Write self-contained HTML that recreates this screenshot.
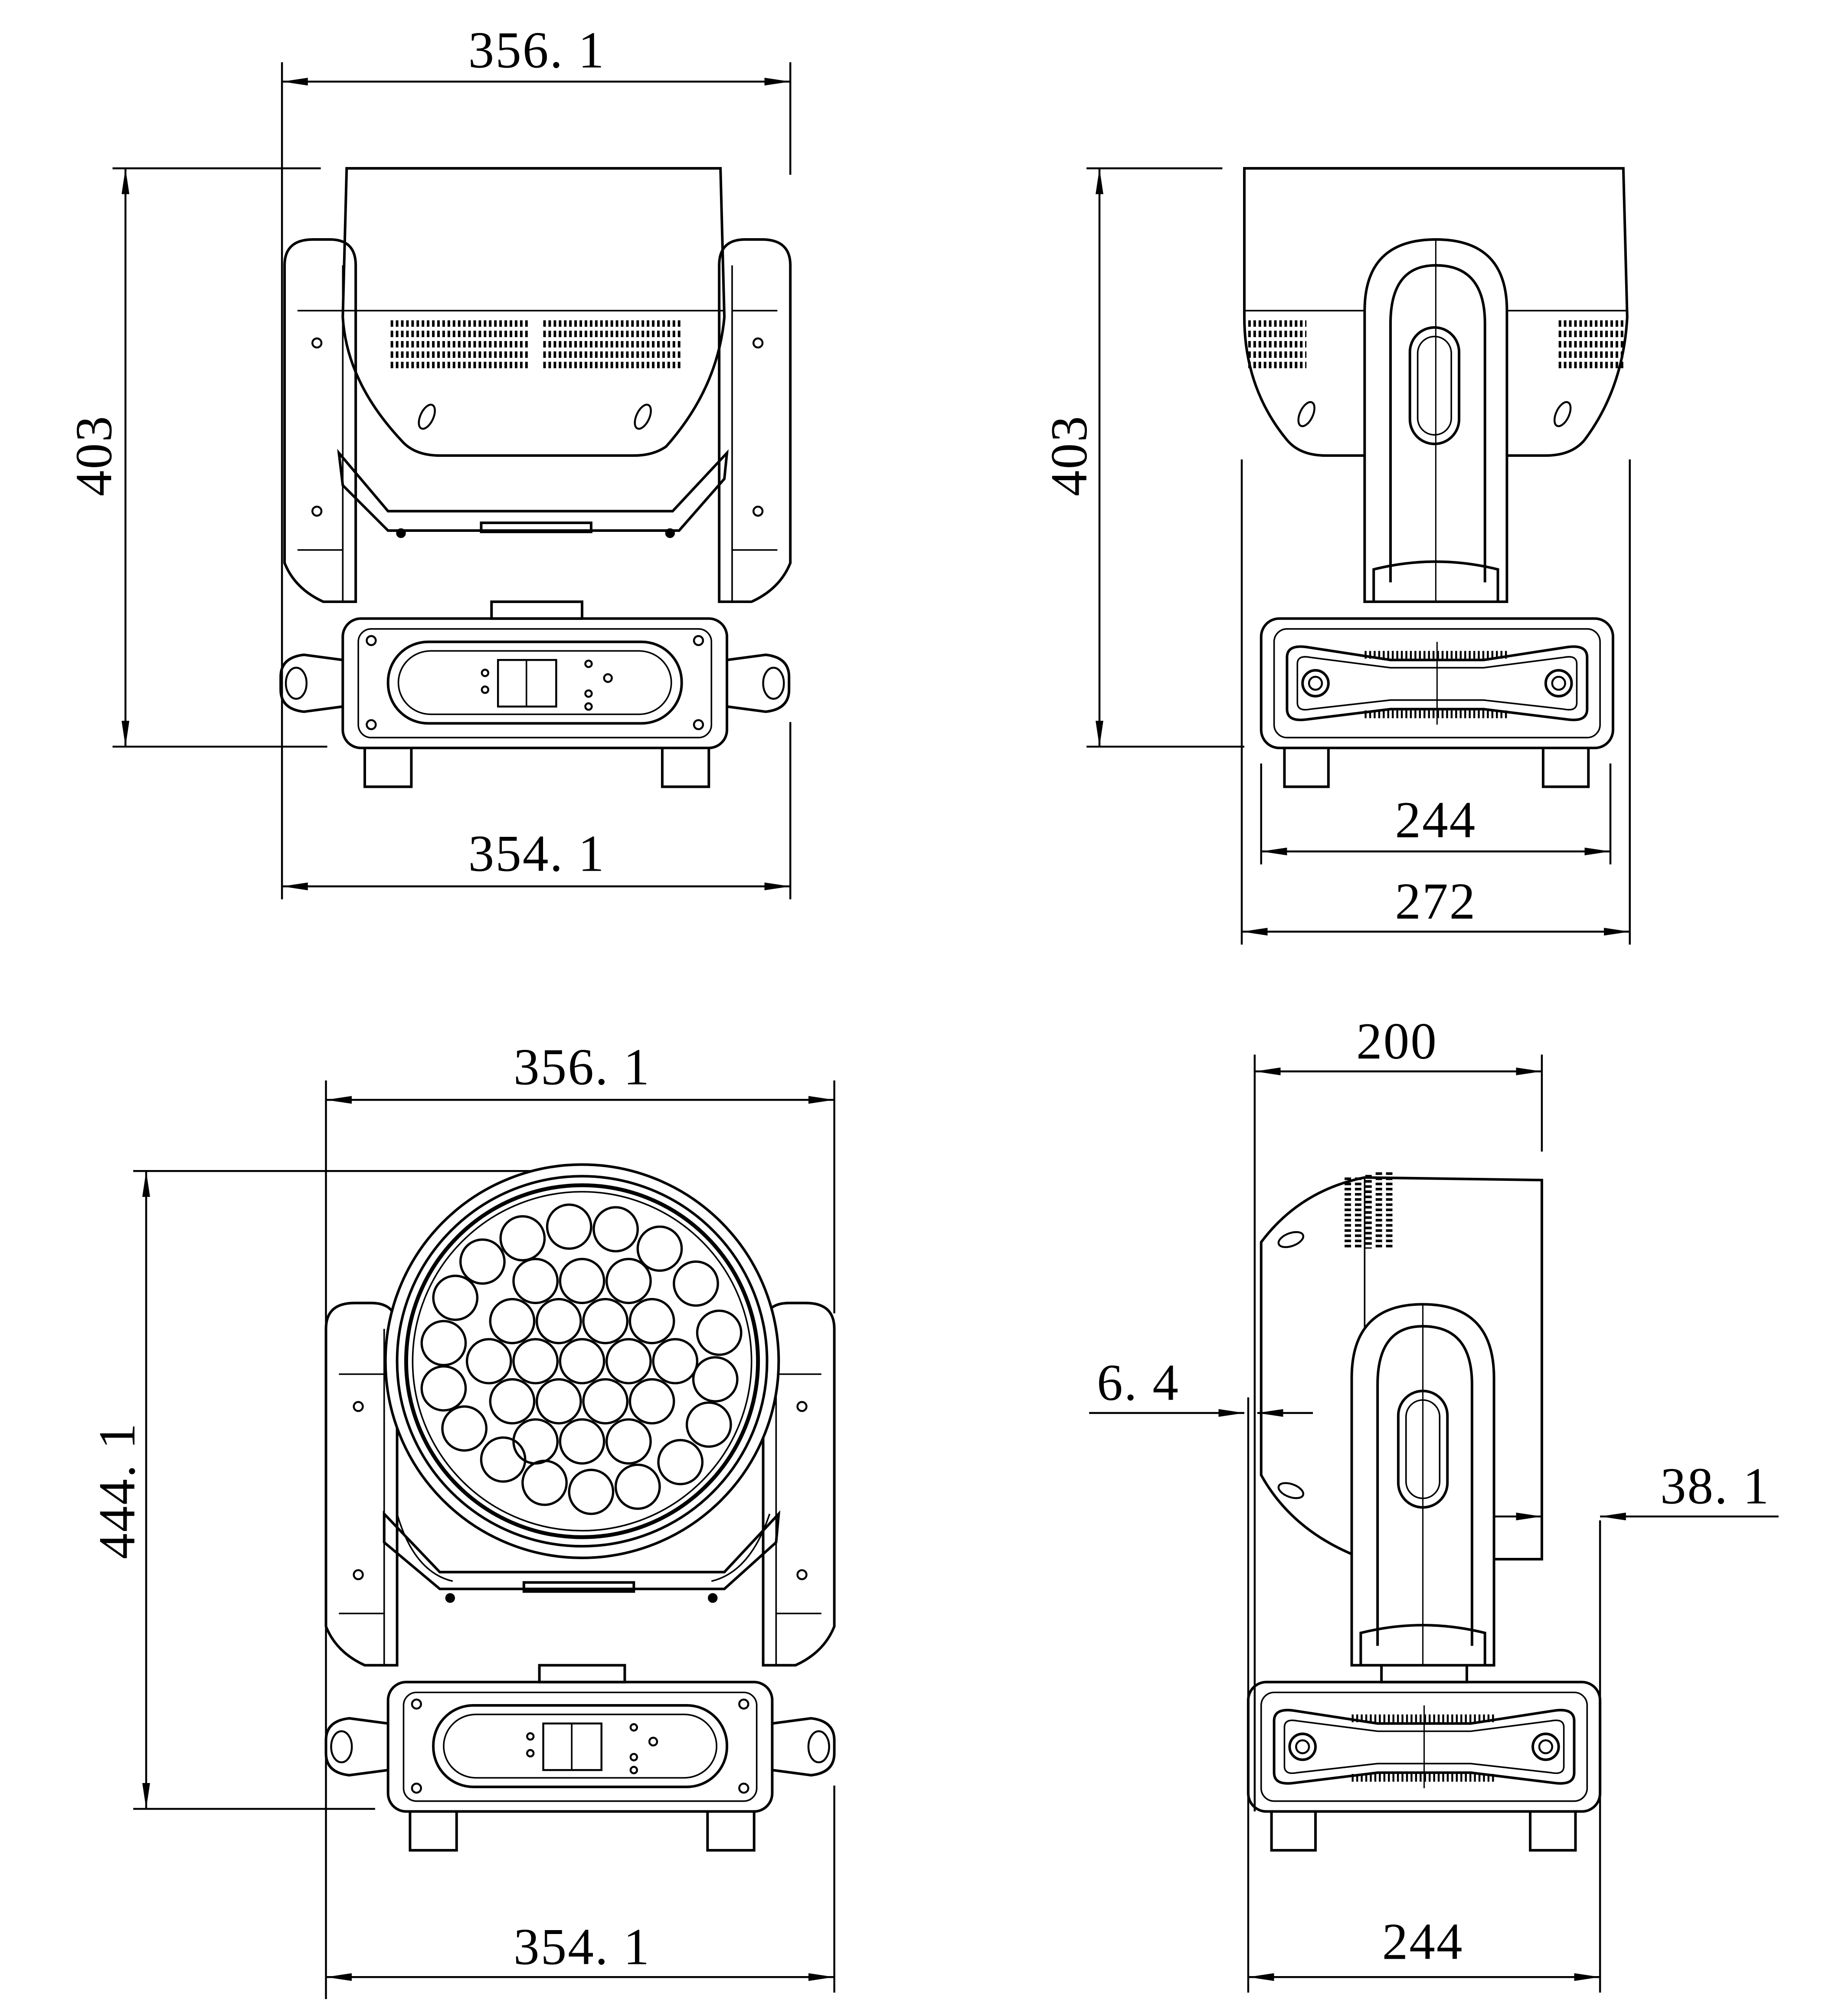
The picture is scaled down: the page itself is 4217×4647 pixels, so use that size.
<!DOCTYPE html>
<html><head><meta charset="utf-8"><style>
html,body{margin:0;padding:0;background:#fff}
svg{display:block}
text{font-family:"Liberation Serif",serif;font-size:40px;fill:#000;letter-spacing:1px}
</style></head><body>
<svg width="4217" height="4647" viewBox="0 0 1414 1558" xmlns="http://www.w3.org/2000/svg">
<defs>
<marker id="a" viewBox="0 0 20 6" refX="20" refY="3" markerWidth="20" markerHeight="6" markerUnits="userSpaceOnUse" orient="auto-start-reverse"><path d="M0,0 L20,3 L0,6 z" fill="#000"/></marker>
<g id="baseF">
 <rect x="0" y="0" width="297" height="100" rx="14" fill="none" stroke="#000" stroke-width="2"/>
 <rect x="12" y="8" width="273" height="84" rx="10" fill="none" stroke="#000" stroke-width="1.2"/>
 <rect x="35" y="18" width="227" height="63" rx="31" fill="none" stroke="#000" stroke-width="2"/>
 <rect x="43" y="25" width="211" height="49" rx="25" fill="none" stroke="#000" stroke-width="1.2"/>
 <rect x="120" y="32" width="45" height="36" fill="none" stroke="#000" stroke-width="1.5"/>
 <line x1="142" y1="32" x2="142" y2="68" stroke="#000" stroke-width="1.2"/>
 <circle cx="22" cy="17" r="3.5"/><circle cx="275" cy="17" r="3.5"/><circle cx="22" cy="82" r="3.5"/><circle cx="275" cy="82" r="3.5"/>
 <circle cx="110" cy="42" r="2.5"/><circle cx="110" cy="55" r="2.5"/><circle cx="190" cy="35" r="2.5"/><circle cx="205" cy="46" r="3"/><circle cx="190" cy="58" r="2.5"/><circle cx="190" cy="68" r="2.5"/>
 <path d="M0,32 L-30,28 Q-48,30 -48,45 L-48,55 Q-48,70 -30,72 L0,68" fill="none" stroke="#000" stroke-width="2"/>
 <path d="M297,32 L327,28 Q345,30 345,45 L345,55 Q345,70 327,72 L297,68" fill="none" stroke="#000" stroke-width="2"/>
 <ellipse cx="-36" cy="50" rx="8" ry="12" fill="none" stroke="#000" stroke-width="1.5"/>
 <ellipse cx="333" cy="50" rx="8" ry="12" fill="none" stroke="#000" stroke-width="1.5"/>
 <path d="M17,100 L17,130 L53,130 L53,100 M247,100 L247,130 L283,130 L283,100" fill="none" stroke="#000" stroke-width="2"/>
</g>
<g id="baseS">
 <rect x="0" y="0" width="272" height="100" rx="14" fill="none" stroke="#000" stroke-width="2"/>
 <rect x="10" y="8" width="252" height="84" rx="10" fill="none" stroke="#000" stroke-width="1.2"/>
 <path d="M20,30 Q20,20 35,22 L100,32 L172,32 L237,22 Q252,20 252,30 L252,70 Q252,80 237,78 L172,70 L100,70 L35,78 Q20,80 20,70 Z" fill="none" stroke="#000" stroke-width="2"/>
 <path d="M28,35 Q28,28 38,30 L100,38 L172,38 L234,30 Q244,28 244,35 L244,65 Q244,72 234,70 L172,63 L100,63 L38,70 Q28,72 28,65 Z" fill="none" stroke="#000" stroke-width="1.2"/>
 <circle cx="42" cy="50" r="10" fill="none" stroke="#000" stroke-width="2"/><circle cx="42" cy="50" r="5" fill="none" stroke="#000" stroke-width="1.5"/>
 <circle cx="230" cy="50" r="10" fill="none" stroke="#000" stroke-width="2"/><circle cx="230" cy="50" r="5" fill="none" stroke="#000" stroke-width="1.5"/>
 <path d="M80,28 h112 M80,74 h112" stroke="#000" stroke-width="6" stroke-dasharray="1.5 2"/>
 <line x1="136" y1="18" x2="136" y2="82" stroke="#000" stroke-width="1"/>
 <path d="M18,100 L18,130 L52,130 L52,100 M218,100 L218,130 L253,130 L253,100" fill="none" stroke="#000" stroke-width="2"/>
</g>
<g id="armL">
 <path d="M0,20 Q0,0 22,0 L35,0 Q55,0 55,20 L55,280 L30,280 Q8,270 0,250 Z" fill="none" stroke="#000" stroke-width="2"/>
 <path d="M10,55 L45,55 M10,240 L45,240 M45,20 L45,280" fill="none" stroke="#000" stroke-width="1.2"/>
 <circle cx="25" cy="80" r="3.5"/><circle cx="25" cy="210" r="3.5"/>
</g>
</defs>
<g fill="none" stroke="#000" stroke-width="1.5">
<!-- ===== TOP LEFT ===== -->
<line x1="218" y1="63" x2="611" y2="63" marker-start="url(#a)" marker-end="url(#a)"/>
<line x1="218" y1="48" x2="218" y2="695"/><line x1="611" y1="48" x2="611" y2="135"/>
<line x1="611" y1="558" x2="611" y2="695"/>
<line x1="97" y1="130" x2="97" y2="577" marker-start="url(#a)" marker-end="url(#a)"/>
<line x1="87" y1="130" x2="248" y2="130"/><line x1="87" y1="577" x2="253" y2="577"/>
<line x1="218" y1="685" x2="611" y2="685" marker-start="url(#a)" marker-end="url(#a)"/>
<g stroke-width="2">
<path d="M268,130 L557,130 L560,245 Q555,300 515,345 Q505,352 490,352 L340,352 Q320,352 310,340 Q268,295 265,245 Z"/>
<line x1="265" y1="240" x2="560" y2="240" stroke-width="1.2"/>
<path d="M262,350 L300,395 L520,395 L562,350 L560,370 L525,410 L300,410 L265,375 Z"/>
<rect x="372" y="404" width="85" height="7"/>
<rect x="380" y="465" width="70" height="13"/>
</g>
<path d="M302,250 h108 M302,258 h108 M302,266 h108 M302,274 h108 M302,282 h108 M420,250 h108 M420,258 h108 M420,266 h108 M420,274 h108 M420,282 h108" stroke-width="5" stroke-dasharray="2 2"/>
<ellipse cx="330" cy="322" rx="5" ry="10" transform="rotate(25 330 322)"/><ellipse cx="497" cy="322" rx="5" ry="10" transform="rotate(25 497 322)"/>
<circle cx="310" cy="412" r="3" fill="#000"/><circle cx="518" cy="412" r="3" fill="#000"/>
<use href="#armL" x="220" y="185"/>
<use href="#armL" x="-611" y="185" transform="scale(-1,1)"/>
<use href="#baseF" x="265" y="478"/>

<!-- ===== TOP RIGHT ===== -->
<line x1="850" y1="130" x2="850" y2="577" marker-start="url(#a)" marker-end="url(#a)"/>
<line x1="840" y1="130" x2="945" y2="130"/><line x1="840" y1="577" x2="962" y2="577"/>
<line x1="975" y1="658" x2="1245" y2="658" marker-start="url(#a)" marker-end="url(#a)"/>
<line x1="960" y1="720" x2="1260" y2="720" marker-start="url(#a)" marker-end="url(#a)"/>
<line x1="975" y1="590" x2="975" y2="668"/><line x1="1245" y1="590" x2="1245" y2="668"/>
<line x1="960" y1="355" x2="960" y2="730"/><line x1="1260" y1="355" x2="1260" y2="730"/>
<g stroke-width="2">
<path d="M962,130 L1255,130 L1258,245 Q1255,300 1225,340 Q1215,352 1195,352 L1025,352 Q1005,352 995,340 Q962,300 962,245 Z"/>
<line x1="962" y1="240" x2="1258" y2="240" stroke-width="1.2"/>
<path d="M1055,465 L1055,240 Q1055,185 1110,185 Q1165,185 1165,240 L1165,465 Z" fill="#fff"/>
<path d="M1075,450 L1075,250 Q1075,205 1110,205 Q1148,205 1148,250 L1148,450"/>
<rect x="1090" y="253" width="38" height="90" rx="19"/>
<rect x="1096" y="260" width="26" height="76" rx="13" stroke-width="1.2"/>
<path d="M1062,465 L1062,440 Q1110,428 1158,440 L1158,465"/>
<line x1="1110" y1="185" x2="1110" y2="465" stroke-width="1"/>
</g>
<path d="M965,250 h45 M965,258 h45 M965,266 h45 M965,274 h45 M965,282 h45 M1205,250 h50 M1205,258 h50 M1205,266 h50 M1205,274 h50 M1205,282 h50" stroke-width="5" stroke-dasharray="2 2"/>
<ellipse cx="1010" cy="320" rx="5" ry="10" transform="rotate(25 1010 320)"/><ellipse cx="1208" cy="320" rx="5" ry="10" transform="rotate(25 1208 320)"/>
<use href="#baseS" x="975" y="478"/>

<!-- ===== BOTTOM LEFT ===== -->
<line x1="252" y1="850" x2="645" y2="850" marker-start="url(#a)" marker-end="url(#a)"/>
<line x1="252" y1="835" x2="252" y2="1545"/><line x1="645" y1="835" x2="645" y2="1015"/>
<line x1="645" y1="1380" x2="645" y2="1540"/>
<line x1="113" y1="905" x2="113" y2="1398" marker-start="url(#a)" marker-end="url(#a)"/>
<line x1="103" y1="905" x2="430" y2="905"/><line x1="103" y1="1398" x2="290" y2="1398"/>
<line x1="252" y1="1528" x2="645" y2="1528" marker-start="url(#a)" marker-end="url(#a)"/>
<use href="#armL" x="252" y="1007"/>
<use href="#armL" x="-645" y="1007" transform="scale(-1,1)"/>
<g stroke-width="2">
<path d="M297,1170 L340,1215 L560,1215 L602,1170 L600,1192 L560,1228 L340,1228 L297,1192 Z"/>
<rect x="405" y="1223" width="85" height="7"/>
<path d="M307,1170 Q320,1215 350,1222 M595,1170 Q580,1215 550,1222" stroke-width="1.2"/>
<circle cx="450" cy="1052" r="152" fill="#fff"/>
<circle cx="450" cy="1052" r="143"/>
<circle cx="450" cy="1052" r="136" stroke-width="3"/>
<circle cx="450" cy="1052" r="131" stroke-width="1.2"/>
<rect x="417" y="1287" width="66" height="13"/>
</g>
<circle cx="348" cy="1235" r="3" fill="#000"/><circle cx="551" cy="1235" r="3" fill="#000"/>
<use href="#baseF" x="300" y="1300"/>
<g stroke-width="1.8">
<circle cx="450" cy="1052" r="17"/>
<circle cx="486" cy="1052" r="17"/><circle cx="468" cy="1083" r="17"/><circle cx="432" cy="1083" r="17"/><circle cx="414" cy="1052" r="17"/><circle cx="432" cy="1021" r="17"/><circle cx="468" cy="1021" r="17"/>
<circle cx="522" cy="1052" r="17"/><circle cx="504" cy="1083" r="17"/><circle cx="486" cy="1114" r="17"/><circle cx="450" cy="1114" r="17"/><circle cx="414" cy="1114" r="17"/><circle cx="396" cy="1083" r="17"/><circle cx="378" cy="1052" r="17"/><circle cx="396" cy="1021" r="17"/><circle cx="414" cy="990" r="17"/><circle cx="450" cy="990" r="17"/><circle cx="486" cy="990" r="17"/><circle cx="504" cy="1021" r="17"/>
<circle cx="553" cy="1066" r="17"/><circle cx="548" cy="1101" r="17"/><circle cx="526" cy="1130" r="17"/><circle cx="493" cy="1149" r="17"/><circle cx="457" cy="1153" r="17"/><circle cx="421" cy="1146" r="17"/><circle cx="389" cy="1128" r="17"/><circle cx="359" cy="1104" r="17"/><circle cx="343" cy="1073" r="17"/><circle cx="343" cy="1038" r="17"/><circle cx="352" cy="1003" r="17"/><circle cx="373" cy="975" r="17"/><circle cx="404" cy="957" r="17"/><circle cx="440" cy="948" r="17"/><circle cx="476" cy="950" r="17"/><circle cx="510" cy="965" r="17"/><circle cx="538" cy="992" r="17"/><circle cx="556" cy="1030" r="17"/>
</g>

<!-- ===== BOTTOM RIGHT ===== -->
<line x1="970" y1="828" x2="1192" y2="828" marker-start="url(#a)" marker-end="url(#a)"/>
<line x1="970" y1="815" x2="970" y2="1400"/><line x1="1192" y1="815" x2="1192" y2="890"/>
<line x1="965" y1="1528" x2="1237" y2="1528" marker-start="url(#a)" marker-end="url(#a)"/>
<line x1="965" y1="1080" x2="965" y2="1540"/><line x1="1237" y1="1175" x2="1237" y2="1540"/>
<line x1="842" y1="1092" x2="962" y2="1092" marker-end="url(#a)"/>
<line x1="1015" y1="1092" x2="972" y2="1092" marker-end="url(#a)"/>
<line x1="1375" y1="1172" x2="1237" y2="1172" marker-end="url(#a)"/>
<line x1="1150" y1="1172" x2="1192" y2="1172" marker-end="url(#a)"/>
<g stroke-width="2">
<path d="M1055,910 L1192,912 L1192,1205 L1055,1205 Q1000,1185 975,1140 L975,960 Q1005,920 1055,910 Z"/>
<line x1="1055" y1="910" x2="1055" y2="1205" stroke-width="1.2"/>
<path d="M1045,1287 L1045,1065 Q1045,1008 1100,1008 Q1155,1008 1155,1065 L1155,1287 Z" fill="#fff"/>
<path d="M1065,1272 L1065,1070 Q1065,1025 1100,1025 Q1138,1025 1138,1070 L1138,1272"/>
<rect x="1081" y="1075" width="38" height="90" rx="19"/>
<rect x="1087" y="1082" width="26" height="76" rx="13" stroke-width="1.2"/>
<path d="M1052,1287 L1052,1262 Q1100,1250 1148,1262 L1148,1287"/>
<line x1="1100" y1="1008" x2="1100" y2="1287" stroke-width="1"/>
<rect x="1068" y="1287" width="66" height="13"/>
</g>
<path d="M1042,910 v55 M1050,910 v55 M1058,908 v57 M1066,906 v59 M1074,906 v59" stroke-width="5" stroke-dasharray="2 2"/>
<ellipse cx="998" cy="958" rx="10" ry="5" transform="rotate(-20 998 958)"/><ellipse cx="998" cy="1152" rx="10" ry="5" transform="rotate(20 998 1152)"/>
<use href="#baseS" x="965" y="1300"/>
</g>
<g>
<text x="415" y="52" text-anchor="middle">356. 1</text>
<text x="415" y="673" text-anchor="middle">354. 1</text>
<text transform="translate(86,352) rotate(-90)" text-anchor="middle">403</text>
<text transform="translate(840,352) rotate(-90)" text-anchor="middle">403</text>
<text x="1110" y="647" text-anchor="middle">244</text>
<text x="1110" y="710" text-anchor="middle">272</text>
<text x="450" y="838" text-anchor="middle">356. 1</text>
<text x="450" y="1518" text-anchor="middle">354. 1</text>
<text transform="translate(104,1152) rotate(-90)" text-anchor="middle">444. 1</text>
<text x="1080" y="818" text-anchor="middle">200</text>
<text x="1100" y="1514" text-anchor="middle">244</text>
<text x="880" y="1082" text-anchor="middle">6. 4</text>
<text x="1326" y="1162" text-anchor="middle">38. 1</text>
</g>
</svg>
</body></html>
